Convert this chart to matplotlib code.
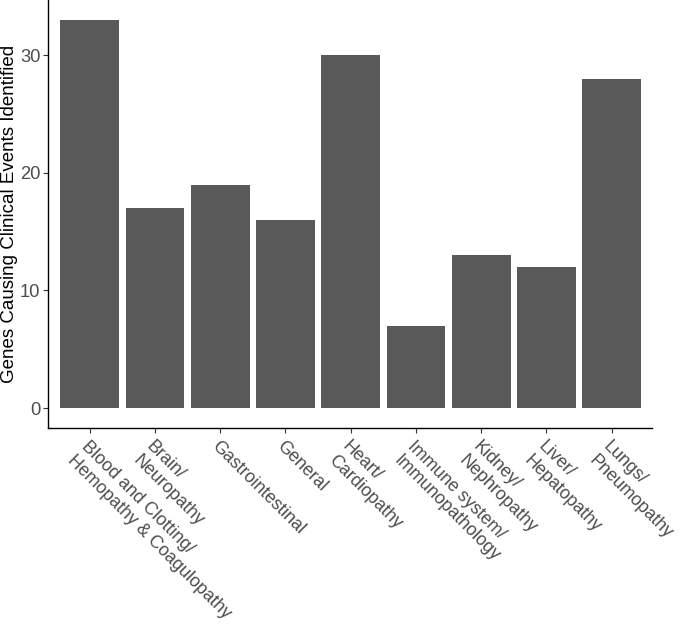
import matplotlib
matplotlib.use("Agg")
import matplotlib.pyplot as plt

categories = ["Blood and Clotting/\nHemopathy & Coagulopathy", "Brain/\nNeuropathy",
              "Gastrointestinal", "General", "Heart/\nCardiopathy",
              "Immune system/\nImmunopathology", "Kidney/\nNephropathy",
              "Liver/\nHepatopathy", "Lungs/\nPneumopathy"]
counts = [33, 17, 19, 16, 30, 7, 13, 12, 28]
yticks = [0, 10, 20, 30]

plt.rcParams['font.family'] = ['Liberation Sans', 'DejaVu Sans']

fig = plt.figure(figsize=(6.85, 6.31), dpi=100)
ax = fig.add_axes([0.070, 0.3217, 0.882, 0.678])

x = range(len(categories))
ax.bar(x, counts, width=0.9, color='#595959')

ax.set_xlim(-0.64, len(categories) - 1 + 0.62)
ax.set_ylim(-1.7, 34.67)
ax.set_yticks(yticks)
ax.set_xticks(list(x))
ax.set_xticklabels(categories, rotation=-45, ha='left', va='top',
                   rotation_mode='anchor', fontsize=12.9, color='#4D4D4D')
ax.tick_params(axis='y', labelsize=13.2, labelcolor='#4D4D4D', pad=2)
ax.tick_params(length=3.5, width=0.8, color='#333333')
ax.set_ylabel('Genes Causing Clinical Events Identified', fontsize=13.5,
              color='black', va='center')
ax.yaxis.set_label_coords(-0.064, 0.5)

for s in ['top', 'right']:
    ax.spines[s].set_visible(False)
for s in ['left', 'bottom']:
    ax.spines[s].set_linewidth(1.0)

fig.savefig('out.png', dpi=100)
